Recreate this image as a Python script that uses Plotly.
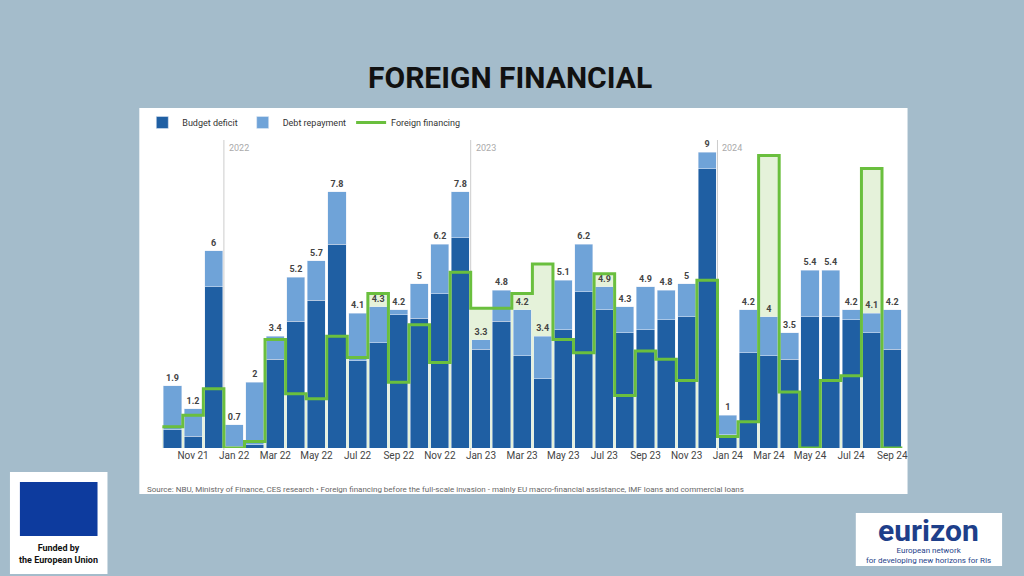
import plotly.graph_objects as go

months = ["Oct 21", "Nov 21", "Dec 21", "Jan 22", "Feb 22", "Mar 22", "Apr 22", "May 22", "Jun 22",
          "Jul 22", "Aug 22", "Sep 22", "Oct 22", "Nov 22", "Dec 22", "Jan 23", "Feb 23", "Mar 23",
          "Apr 23", "May 23", "Jun 23", "Jul 23", "Aug 23", "Sep 23", "Oct 23", "Nov 23", "Dec 23",
          "Jan 24", "Feb 24", "Mar 24", "Apr 24", "May 24", "Jun 24", "Jul 24", "Aug 24", "Sep 24"]
total = [1.9, 1.2, 6, 0.7, 2, 3.4, 5.2, 5.7, 7.8, 4.1, 4.3, 4.2, 5, 6.2, 7.8, 3.3, 4.8, 4.2,
         3.4, 5.1, 6.2, 4.9, 4.3, 4.9, 4.8, 5, 9, 1, 4.2, 4, 3.5, 5.4, 5.4, 4.2, 4.1, 4.2]
deficit = [0.55, 0.35, 4.9, 0.05, 0.1, 2.7, 3.85, 4.5, 6.2, 2.65, 3.2, 4.05, 3.95, 4.7, 6.4, 3.0,
           3.85, 2.8, 2.1, 3.6, 4.75, 4.2, 3.5, 3.6, 3.9, 4.0, 8.5, 0.4, 2.9, 2.8, 2.7, 4.0, 4.0,
           3.9, 3.5, 3.0]
foreign = [0.65, 1.0, 1.8, 0, 0.2, 3.3, 1.65, 1.5, 3.4, 2.75, 4.7, 2.0, 3.75, 2.6, 5.35, 4.25,
           4.25, 4.7, 5.6, 3.3, 2.9, 5.3, 1.6, 2.95, 2.7, 2.05, 5.1, 0.35, 0.8, 8.9, 1.7, 0, 2.05,
           2.2, 8.5, 0]
years = ["2022", "2023", "2024"]

repay = [round(t - d, 2) for t, d in zip(total, deficit)]
idx = list(range(len(months)))
tick_idx = [i for i in idx if i % 2 == 1]
step_x = [-0.5] + idx + [len(idx) - 0.5]
step_y = [foreign[0]] + foreign + [foreign[-1]]

fig = go.Figure()
# light green area under the foreign financing steps (base axes, drawn beneath the bars)
fig.add_trace(go.Bar(x=idx, y=foreign, width=1, marker=dict(color="#e5f2da", line_width=0),
                     showlegend=False, hoverinfo="skip", xaxis="x", yaxis="y"))
fig.add_trace(go.Bar(x=idx, y=deficit, name="Budget deficit", marker_color="#1f5fa3",
                     xaxis="x2", yaxis="y2"))
fig.add_trace(go.Bar(x=idx, y=repay, name="Debt repayment", marker_color="#6fa3d8",
                     text=[f"<b>{t:g}</b>" for t in total], textposition="outside",
                     textfont=dict(size=9, color="#444", family="Roboto"), cliponaxis=False,
                     xaxis="x2", yaxis="y2"))
fig.add_trace(go.Scatter(x=step_x, y=step_y, mode="lines", line_shape="hvh",
                         line=dict(color="#6abf3e", width=3), name="Foreign financing",
                         xaxis="x2", yaxis="y2"))

shapes = [dict(type="rect", xref="paper", yref="paper", x0=140/1024, x1=912/1024,
               y0=1-494/576, y1=1-108/576, fillcolor="white", line_width=0, layer="below")]
ann = []
for yr in years:
    xi = months.index("Jan " + yr[2:]) - 0.5
    shapes.append(dict(type="line", x0=xi, x1=xi, yref="paper", y0=1-450/576, y1=1-140/576,
                       line=dict(color="#ccc", width=1), layer="below"))
    ann.append(dict(x=xi, y=1-148/576, yref="paper", text=yr, showarrow=False, xanchor="left",
                    yanchor="middle", xshift=3, font=dict(size=9, color="#aaa")))

def note(x, y, text, size, color, xanchor="center"):
    return dict(x=x/1024, y=1-y/576, xref="paper", yref="paper", text=text, showarrow=False,
                xanchor=xanchor, yanchor="middle", font=dict(size=size, color=color))

ann += [
    note(512, 78, "<b>FOREIGN FINANCIAL</b>", 30, "#111"),
    note(146, 489, "Source: NBU, Ministry of Finance, CES research • Foreign financing before the "
         "full-scale invasion - mainly EU macro-financial assistance, IMF loans and commercial loans",
         8, "#666", "left"),
    note(59, 554, "<b>Funded by<br>the European Union</b>", 9, "#111"),
    note(933, 530, "<b>eurizon</b>", 30, "#1e3f8a"),
    note(933, 555, "European network<br>for developing new horizons for RIs", 8, "#1e3f8a"),
]
shapes += [
    dict(type="rect", xref="paper", yref="paper", x0=10/1024, x1=108/1024, y0=1-574/576, y1=1-472/576,
         fillcolor="white", line_width=0, layer="below"),
    dict(type="rect", xref="paper", yref="paper", x0=20/1024, x1=98/1024, y0=1-536/576, y1=1-482/576,
         fillcolor="#0d3b9e", line_width=0),
    dict(type="rect", xref="paper", yref="paper", x0=860/1024, x1=1007/1024, y0=1-566/576, y1=1-513/576,
         fillcolor="white", line_width=0, layer="below"),
]

xdom = [163/1024, 907/1024]
ydom = [1-448/576, 1-139/576]
fig.update_layout(
    width=1024, height=576, barmode="stack", bargap=0.12,
    paper_bgcolor="#a4bccb", plot_bgcolor="rgba(0,0,0,0)",
    margin=dict(l=0, r=0, t=0, b=0), shapes=shapes, annotations=ann,
    font=dict(family="Roboto"),
    legend=dict(orientation="h", x=143/1024, y=1-108/576, xanchor="left", yanchor="top",
                font=dict(size=9, color="#333"), bgcolor="rgba(0,0,0,0)", traceorder="normal",
                itemwidth=30, tracegroupgap=0),
    xaxis=dict(domain=xdom, range=[-0.5, 35.5], tickvals=tick_idx,
               ticktext=[months[i] for i in tick_idx], showgrid=False, zeroline=False,
               tickfont=dict(size=10, color="#444")),
    yaxis=dict(domain=ydom, range=[0, 9.4], visible=False),
    xaxis2=dict(overlaying="x", range=[-0.5, 35.5], visible=False),
    yaxis2=dict(overlaying="y", range=[0, 9.4], visible=False),
)
fig.write_html("out.html", config={"displayModeBar": False},
               post_script="document.body.style.margin='0';")
